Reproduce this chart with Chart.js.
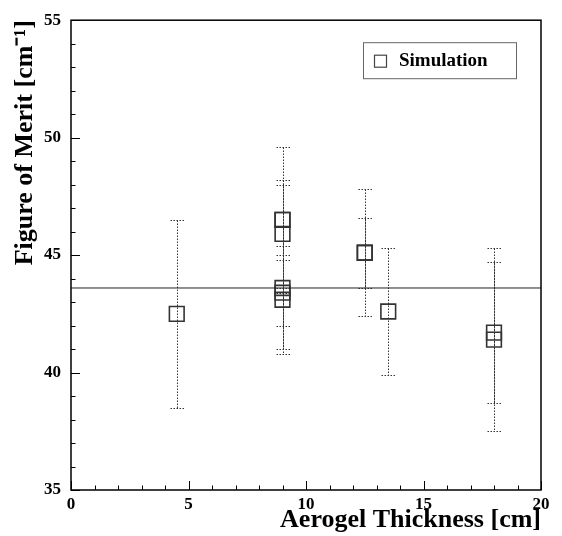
<!DOCTYPE html>
<html><head><meta charset="utf-8">
<script src="https://cdn.jsdelivr.net/npm/chart.js@4"></script>
<style>html,body{margin:0;padding:0;background:#fff}canvas{display:block}</style>
</head><body>
<canvas id="c" width="562" height="536"></canvas>
<script>
// ---- data ----
const thickness = [4.5, 9, 9, 9, 9, 9, 9, 12.5, 12.5, 13.5, 18, 18];
const merit     = [42.5, 46.5, 46.5, 45.9, 43.6, 43.4, 43.1, 45.1, 45.1, 42.6, 41.7, 41.4];
const meritErr  = [4.0, 3.1, 1.5, 2.3, 2.6, 1.4, 2.3, 2.7, 1.5, 2.7, 3.0, 3.9];
const meanMerit = [43.6];
const xRange = [0, 20];
const yRange = [35, 55];
const seriesName = 'Simulation';
const xTitle = 'Aerogel Thickness [cm]';
const yTitle = 'Figure of Merit [cm\u207B\u00B9]';
const FONT = "'Liberation Serif', 'Times New Roman', serif";

const errorBars = {
  id: 'errorBars',
  beforeDatasetsDraw(chart) {
    const {ctx, scales: {x, y}} = chart;
    ctx.save();
    ctx.strokeStyle = '#333';
    ctx.lineWidth = 1;
    ctx.setLineDash([1.5, 1.5]);
    thickness.forEach((t, i) => {
      const px = Math.round(x.getPixelForValue(t)) + 0.5;
      const yHi = Math.round(y.getPixelForValue(merit[i] + meritErr[i])) + 0.5;
      const yLo = Math.round(y.getPixelForValue(merit[i] - meritErr[i])) + 0.5;
      ctx.beginPath();
      ctx.moveTo(px, yHi); ctx.lineTo(px, yLo);
      ctx.moveTo(px - 7, yHi); ctx.lineTo(px + 7, yHi);
      ctx.moveTo(px - 7, yLo); ctx.lineTo(px + 7, yLo);
      ctx.stroke();
    });
    ctx.restore();
  }
};

const frame = {
  id: 'frame',
  afterDraw(chart) {
    const {ctx, chartArea: a, scales: {x, y}} = chart;
    ctx.save();
    ctx.strokeStyle = '#000';
    ctx.lineWidth = 1.5;
    ctx.strokeRect(a.left, a.top, a.right - a.left, a.bottom - a.top);
    ctx.lineWidth = 1;
    ctx.beginPath();
    for (let v = xRange[0]; v <= xRange[1]; v++) {
      const px = Math.round(x.getPixelForValue(v)) + 0.5;
      const len = v % 5 === 0 ? 9 : 4.5;
      ctx.moveTo(px, a.bottom); ctx.lineTo(px, a.bottom - len);
    }
    for (let v = yRange[0]; v <= yRange[1]; v++) {
      const py = Math.round(y.getPixelForValue(v)) + 0.5;
      const len = v % 5 === 0 ? 9 : 4.5;
      ctx.moveTo(a.left, py); ctx.lineTo(a.left + len, py);
    }
    ctx.stroke();
    // legend box
    const lx = a.left + 292, ly = a.top + 22.5, lw = 153, lh = 36;
    ctx.strokeStyle = '#666';
    ctx.lineWidth = 1;
    ctx.strokeRect(lx + 0.5, ly, lw, lh);
    ctx.strokeStyle = '#444';
    ctx.lineWidth = 1.2;
    ctx.strokeRect(lx + 11.5, ly + 12.5, 12, 12);
    ctx.fillStyle = '#000';
    ctx.font = 'bold 19px ' + FONT;
    ctx.textBaseline = 'middle';
    ctx.textAlign = 'left';
    ctx.fillText(seriesName, lx + 36, ly + 18.5);
    ctx.restore();
  }
};

new Chart(document.getElementById('c'), {
  type: 'scatter',
  data: {
    datasets: [
      {
        type: 'line',
        data: [{x: xRange[0], y: meanMerit[0]}, {x: xRange[1], y: meanMerit[0]}],
        borderColor: '#222',
        borderWidth: 1,
        pointRadius: 0,
        fill: false
      },
      {
        label: seriesName,
        data: thickness.map((t, i) => ({x: t, y: merit[i]})),
        pointStyle: 'rect',
        pointRadius: 10.4,
        borderColor: '#333',
        borderWidth: 1.6,
        backgroundColor: 'rgba(0,0,0,0)'
      }
    ]
  },
  options: {
    responsive: false,
    animation: false,
    devicePixelRatio: 1,
    layout: {padding: {top: 15, right: 21, left: 0, bottom: 0}},
    plugins: {legend: {display: false}, tooltip: {enabled: false}},
    scales: {
      x: {
        type: 'linear', min: xRange[0], max: xRange[1],
        grid: {display: false, drawTicks: false, tickLength: 0},
        border: {display: false},
        ticks: {stepSize: 5, padding: 4, color: '#000', font: {family: FONT, size: 17, weight: 'bold'}},
        title: {display: true, text: xTitle, align: 'end', color: '#000', padding: {top: 0, bottom: 0},
                font: {family: FONT, size: 26, weight: 'bold'}},
        afterFit(s) { s.height = 46; }
      },
      y: {
        type: 'linear', min: yRange[0], max: yRange[1],
        grid: {display: false, drawTicks: false, tickLength: 0},
        border: {display: false},
        ticks: {stepSize: 5, padding: 10, color: '#000', font: {family: FONT, size: 17, weight: 'bold'}},
        title: {display: true, text: yTitle, align: 'end', color: '#000', padding: {top: 10, bottom: 0},
                font: {family: FONT, size: 26, weight: 'bold'}},
        afterFit(s) { s.width = 71; }
      }
    }
  },
  plugins: [errorBars, frame]
});
</script>
</body></html>
